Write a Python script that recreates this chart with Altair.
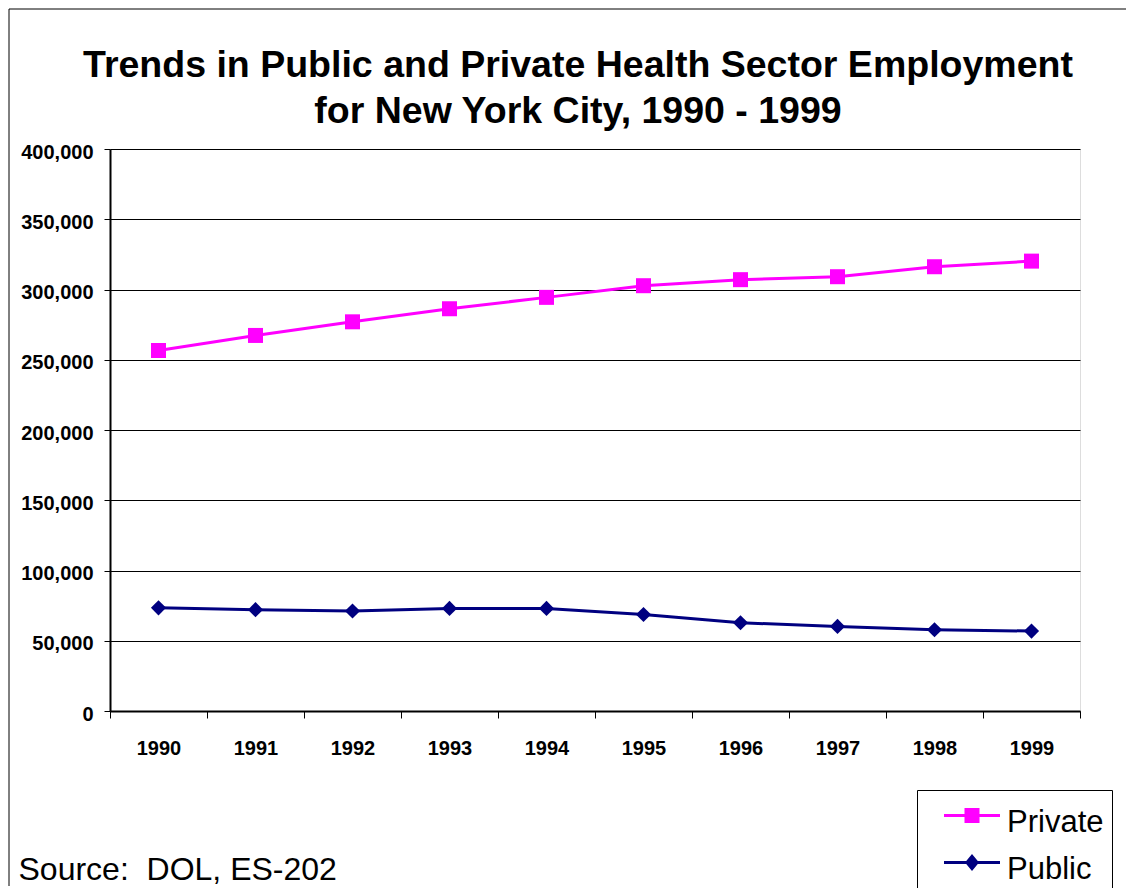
import altair as alt
import pandas as pd

years = ["1990", "1991", "1992", "1993", "1994", "1995", "1996", "1997", "1998", "1999"]
private = [256600, 267300, 277000, 286300, 294400, 302700, 307000, 309100, 316200, 320200]
public = [73400, 72100, 71200, 73000, 73000, 68700, 62800, 60200, 57800, 56900]
series_names = ["Private", "Public"]
series_colors = ["#FF00FF", "#000080"]
y_ticks = [0, 50000, 100000, 150000, 200000, 250000, 300000, 350000, 400000]
title_lines = ["Trends in Public and Private Health Sector Employment",
               "for New York City, 1990 - 1999"]
source_text = "Source:\u00a0 DOL, ES-202"

# legend symbols: line segment with the marker on it (unit coords, scaled by sqrt(size)/2)
s = -0.30
legend_paths = [
    f"M-1.12,{s-0.06:.2f}H1.12V{s+0.06:.2f}H-1.12Z M-0.3,{s-0.3:.2f}H0.3V{s+0.3:.2f}H-0.3Z",
    f"M-1.12,{s-0.06:.2f}H1.12V{s+0.06:.2f}H-1.12Z M0,{s-0.34:.2f}L0.28,{s:.2f}L0,{s+0.34:.2f}L-0.28,{s:.2f}Z",
]

rows = []
for i, yr in enumerate(years):
    rows.append({"year": yr, "series": "Private", "value": private[i]})
    rows.append({"year": yr, "series": "Public", "value": public[i]})
df = pd.DataFrame(rows)

FONT = "Liberation Sans"

x_enc = alt.X(
    "year:O",
    sort=years,
    bandPosition=0.5,
    scale=alt.Scale(type="band", paddingInner=0, paddingOuter=0),
    axis=alt.Axis(
        title=source_text,
        titleX=-92, titleY=168, titleAlign="left", titleAnchor="start",
        titleBaseline="alphabetic", titleFont=FONT, titleFontSize=32,
        titleFontWeight="normal", titleColor="black", titleAngle=0,
        tickBand="extent", labelAngle=0, labelFont=FONT, labelFontSize=20,
        labelFontWeight="bold", labelColor="black", labelPadding=20,
        tickSize=7, tickColor="black", tickWidth=1,
        domainColor="black", domainWidth=2, grid=False,
    ),
)
y_enc = alt.Y(
    "value:Q",
    scale=alt.Scale(domain=[0, 400000], nice=False, zero=True),
    axis=alt.Axis(
        title=None, values=y_ticks, format=",d", labelFont=FONT, labelFontSize=20,
        labelFontWeight="bold", labelColor="black", labelPadding=11, labelOffset=3,
        tickSize=6, tickColor="black", tickWidth=1,
        domainColor="black", domainWidth=2,
        grid=True, gridColor="black", gridWidth=1,
    ),
)

base = alt.Chart(df)

priv = base.transform_filter(alt.datum.series == "Private")
pub = base.transform_filter(alt.datum.series == "Public")

priv_line = priv.mark_line(color="#FF00FF", strokeWidth=3).encode(x=x_enc, y=y_enc)
priv_pts = priv.mark_point(shape="square", filled=True, size=225, opacity=1,
                           color="#FF00FF").encode(x=x_enc, y=y_enc)
pub_line = pub.mark_line(color="#000080", strokeWidth=3).encode(x=x_enc, y=y_enc)
pub_pts = pub.mark_point(shape="diamond", filled=True, size=230, opacity=1,
                         color="#000080").encode(x=x_enc, y=y_enc)

leg = alt.Legend(
    title=None, orient="none", legendX=807, legendY=641,
    symbolSize=2500, symbolStrokeWidth=0, symbolOffset=22,
    labelFont=FONT, labelFontSize=31, labelColor="black", labelOffset=10,
    labelBaseline="middle",
    labelExpr="datum.label + '\u00a0\u00a0'",
    padding=8, rowPadding=7, strokeColor="black", fillColor="white",
)
legend_layer = base.mark_point(filled=True, size=0, opacity=1).encode(
    x=x_enc, y=y_enc,
    color=alt.Color("series:N", scale=alt.Scale(domain=series_names, range=series_colors), legend=leg),
    shape=alt.Shape("series:N", scale=alt.Scale(domain=series_names, range=legend_paths), legend=leg),
)

# outer chart-area border: only its left and top edges fall inside the picture
frame_left = alt.Chart(pd.DataFrame({"edge": ["left"]})).mark_rule(
    color="black", strokeWidth=1
).encode(x=alt.value(-101), y=alt.value(-140), y2=alt.value(737))
frame_top = alt.Chart(pd.DataFrame({"edge": ["top"]})).mark_rule(
    color="black", strokeWidth=1
).encode(x=alt.value(-101), x2=alt.value(1016), y=alt.value(-140))

chart = alt.layer(frame_left, frame_top, pub_line, pub_pts, priv_line, priv_pts, legend_layer).properties(
    width=970,
    height=562,
    autosize=alt.AutoSizeParams(type="none"),
    padding={"left": 102, "top": 141, "right": 47, "bottom": 177},
    title=alt.TitleParams(
        text=title_lines, font=FONT, fontSize=37.5, fontWeight="bold", color="black",
        anchor="middle", dx=-17, dy=133.5, offset=12, lineHeight=46,
    ),
).configure_view(
    stroke="#808080", strokeWidth=2,
).configure(background="white")

chart.save("out.html", embed_options={"renderer": "svg", "actions": False})
